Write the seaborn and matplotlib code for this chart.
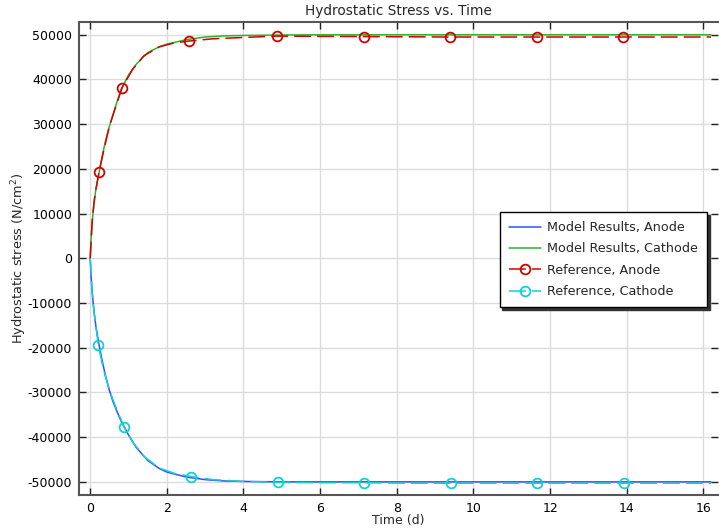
import matplotlib
matplotlib.use("Agg")
import matplotlib.pyplot as plt
import seaborn as sns

# ---- data ----
model_t = [0, 0.02, 0.05, 0.1, 0.15, 0.2, 0.25, 0.3, 0.4, 0.5, 0.6, 0.8, 1.0, 1.2,
           1.5, 1.8, 2.0, 2.5, 3.0, 3.5, 4.0, 5.0, 6.0, 8.0, 10.0, 12.0, 14.0, 16.2]
# as labelled in the reference: model "Anode" is the negative (blue) curve
model_anode = [0, -3500, -7500, -12000, -15300, -17800, -20200, -22400, -26300, -29500,
               -32200, -36300, -39500, -42300, -45200, -47000, -47800, -48900, -49500,
               -49800, -49900, -50000, -50000, -50000, -50000, -50000, -50000, -50000]
model_cathode = [0, 4000, 8000, 12500, 15500, 17800, 20000, 22300, 26300, 29500, 32300,
                 37700, 41000, 43400, 46000, 47300, 47900, 48900, 49500, 49750, 49850,
                 49950, 50000, 50000, 50000, 50000, 50000, 50000]

ref_anode_t = [0, 0.05, 0.1, 0.15, 0.23, 0.35, 0.5, 0.65, 0.83, 1.1, 1.4, 1.8, 2.2,
               2.58, 3.2, 4.0, 4.87, 6.0, 7.14, 8.3, 9.38, 10.5, 11.65, 12.8, 13.91,
               15.0, 16.2]
ref_anode = [0, 8000, 12500, 15500, 19300, 24000, 29500, 33500, 38100, 42200, 45300,
             47300, 48200, 48600, 49100, 49400, 49700, 49650, 49600, 49550, 49500,
             49500, 49500, 49500, 49500, 49500, 49500]
ref_cathode_t = [0, 0.05, 0.1, 0.15, 0.21, 0.35, 0.5, 0.7, 0.89, 1.1, 1.4, 1.8, 2.2,
                 2.63, 3.2, 4.0, 4.9, 6.0, 7.14, 8.3, 9.41, 10.5, 11.67, 12.8, 13.94,
                 15.0, 16.2]
ref_cathode = [0, -7500, -12000, -15300, -19400, -25000, -29500, -34000, -37800, -41000,
               -44300, -46900, -48100, -48800, -49500, -49900, -50100, -50200, -50200,
               -50300, -50300, -50300, -50300, -50300, -50300, -50300, -50300]
marker_idx = [4, 8, 13, 16, 18, 20, 22, 24]

labels = ["Model Results, Anode", "Model Results, Cathode",
          "Reference, Anode", "Reference, Cathode"]
x_ticks = [0, 2, 4, 6, 8, 10, 12, 14, 16]
y_ticks = [-50000, -40000, -30000, -20000, -10000, 0, 10000, 20000, 30000, 40000, 50000]

# ---- style ----
sns.set_theme(style="whitegrid")
plt.rcParams["font.family"] = ["DejaVu Sans"]
plt.rcParams["axes.unicode_minus"] = False

fig = plt.figure(figsize=(7.19, 5.32), dpi=100)
ax = fig.add_axes([0.110, 0.069, 0.889, 0.890])

sns.lineplot(x=model_t, y=model_anode, ax=ax, color="#3050ff", linewidth=1.1,
             label=labels[0], sort=False, zorder=2)
sns.lineplot(x=model_t, y=model_cathode, ax=ax, color="#2cb42c", linewidth=1.1,
             label=labels[1], sort=False, zorder=2)
sns.lineplot(x=ref_anode_t, y=ref_anode, ax=ax, color="#d40000", linewidth=1.1,
             linestyle=(0, (11, 4)), marker="o", markersize=7, markerfacecolor="none",
             markeredgewidth=1.3, markeredgecolor="#d40000", markevery=marker_idx,
             label=labels[2], sort=False, zorder=3)
sns.lineplot(x=ref_cathode_t, y=ref_cathode, ax=ax, color="#10d0d8", linewidth=1.1,
             linestyle=(0, (11, 4)), marker="o", markersize=7, markerfacecolor="none",
             markeredgewidth=1.3, markeredgecolor="#10d0d8", markevery=marker_idx,
             label=labels[3], sort=False, zorder=3)

ax.set_xlim(-0.29, 16.39)
ax.set_ylim(-53000, 52900)
ax.set_xticks(x_ticks)
ax.set_yticks(y_ticks)
ax.grid(True, color="#dcdcdc", linewidth=1)
ax.set_facecolor("white")

ax.tick_params(axis="both", which="both", direction="in", length=5, width=1,
               colors="#222222", labelsize=9, labelcolor="black",
               top=True, right=True, bottom=True, left=True, pad=5)
for side in ["left", "bottom", "top"]:
    ax.spines[side].set_color("#555555")
    ax.spines[side].set_linewidth(1.5)
    ax.spines[side].set_visible(True)
ax.spines["right"].set_visible(False)

ax.set_title("Hydrostatic Stress vs. Time", fontsize=9.8, pad=5)
ax.set_xlabel("Time (d)", fontsize=9, labelpad=-1)
ax.set_ylabel("Hydrostatic stress (N/cm$^2$)", fontsize=9.3, labelpad=-1)

leg = ax.legend(loc="upper right", bbox_to_anchor=(0.982, 0.598), fontsize=9.2,
                frameon=True, fancybox=False, shadow={"color": "#333333", "alpha": 1},
                handlelength=2.5, handletextpad=0.5, borderpad=0.7, labelspacing=0.65,
                borderaxespad=0)
leg.get_frame().set_edgecolor("black")
leg.get_frame().set_linewidth(1)
leg.get_frame().set_alpha(1)

fig.savefig("out.png", dpi=100)
